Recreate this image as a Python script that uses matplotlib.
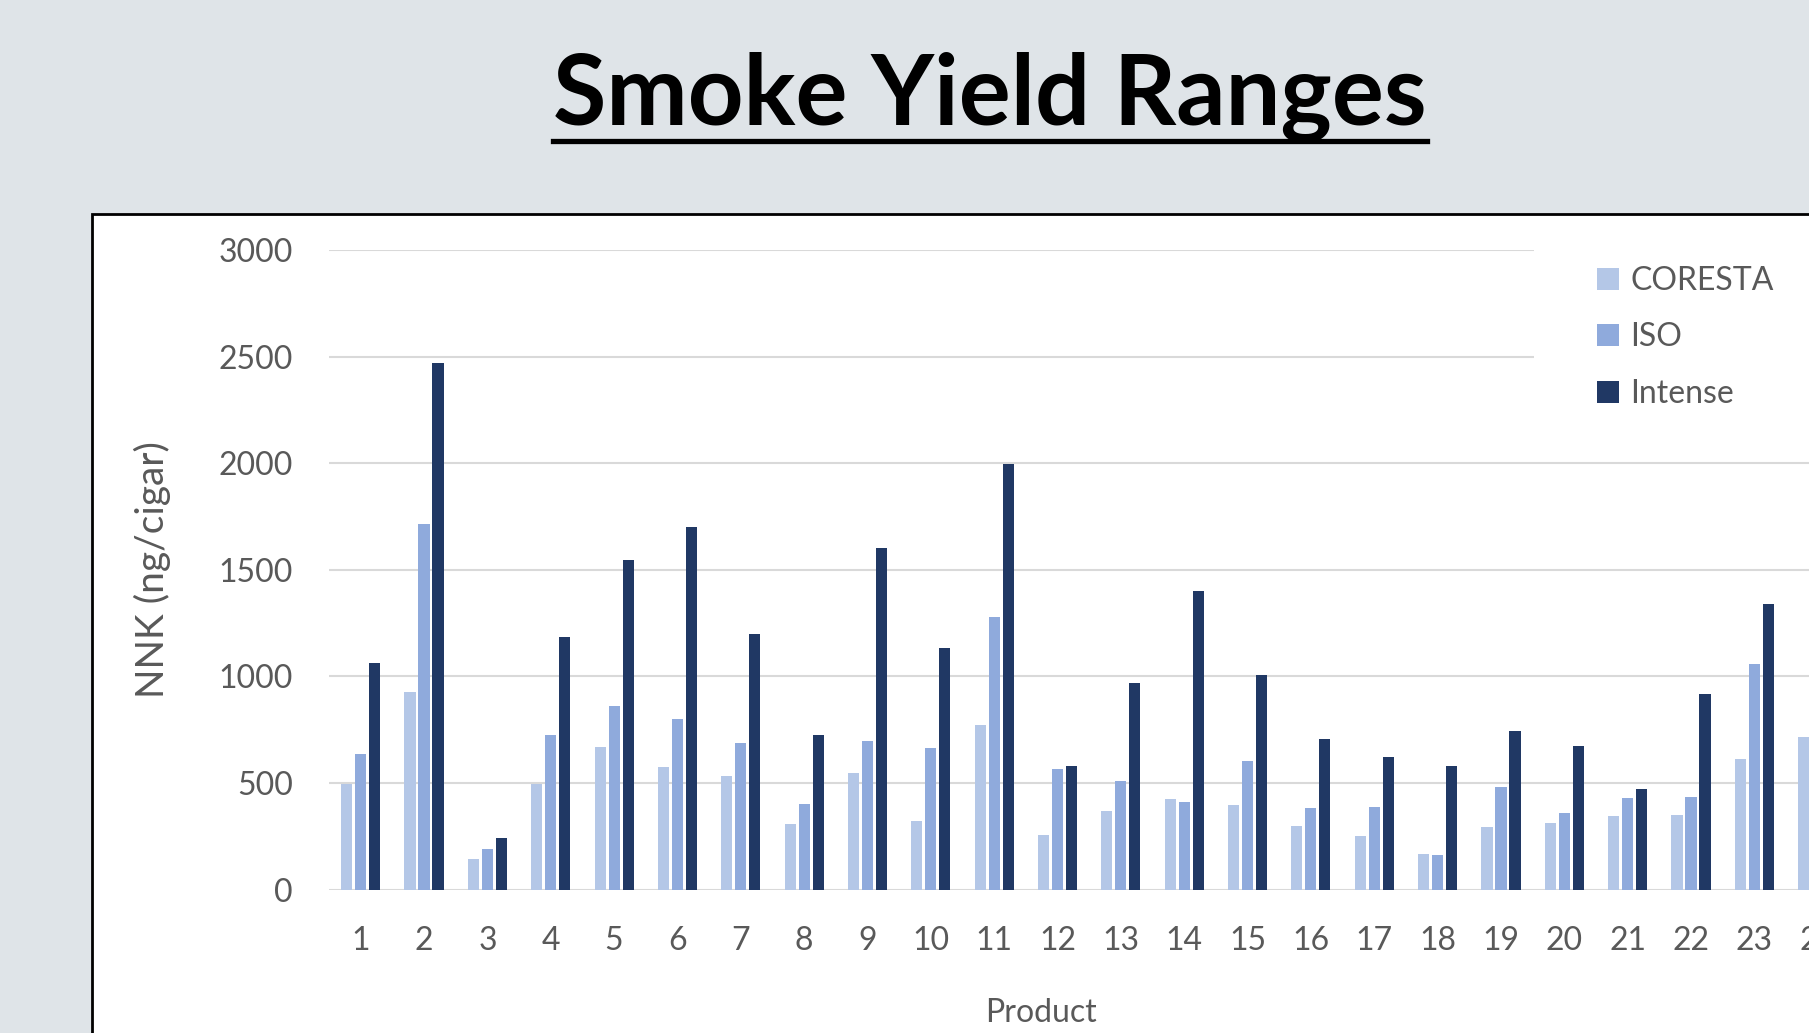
"""
Smoke Yield Ranges - NNK (ng/cigar) per product under three smoking regimes.
"""

import numpy as np
import matplotlib
matplotlib.use("Agg")
import matplotlib.pyplot as plt
from matplotlib.patches import Rectangle
from matplotlib.lines import Line2D

# ---- data ----
products = [str(i) for i in range(1, 25)]
coresta = [495, 927, 143, 495, 670, 577, 532, 308, 548, 320, 774, 257,
           367, 426, 395, 296, 253, 167, 293, 314, 346, 351, 611, 717]
iso = [634, 1716, 192, 723, 862, 799, 687, 399, 695, 664, 1278, 567,
       510, 410, 601, 383, 385, 161, 481, 357, 428, 432, 1058, np.nan]
intense = [1064, 2470, 243, 1184, 1549, 1702, 1200, 723, 1602, 1135, 1997, 581,
           970, 1402, 1007, 705, 620, 579, 744, 673, 471, 917, 1339, np.nan]
series_names = ["CORESTA", "ISO", "Intense"]
colors = ["#B4C7E7", "#8FAADC", "#203864"]

BG = "#DFE4E8"
TXT = "#595959"
FONT = ["Lato", "Open Sans", "DejaVu Sans"]

W, H = 1809, 1033
fig = plt.figure(figsize=(W / 100, H / 100), dpi=100, facecolor=BG)

# white chart box with black border (runs off the right/bottom edge)
box = Rectangle((92 / W, -0.1), 1.2, 1 - 214 / H + 0.1, transform=fig.transFigure,
                facecolor="white", edgecolor="black", linewidth=2, zorder=-5)
fig.add_artist(box)

# title, underlined
title = fig.text(0.5473, 1 - 125 / H, "Smoke Yield Ranges", ha="center", va="baseline",
                 fontsize=70, fontweight="bold", family=FONT, color="black")
fig.canvas.draw()
bb = title.get_window_extent().transformed(fig.transFigure.inverted())
fig.add_artist(Line2D([bb.x0, bb.x1], [1 - 141 / H] * 2, transform=fig.transFigure,
                      color="black", linewidth=3.8))

# axes: category spacing ~63.35 px, extends past right edge of the figure
n_show = 24
ax_left = 329 / W
ax_bottom = 1 - 889.5 / H
ax_height = (889.5 - 250.4) / H
ax_width = n_show * 63.35 / W
ax = fig.add_axes([ax_left, ax_bottom, ax_width, ax_height])
ax.set_facecolor("none")

x = np.arange(1, len(products) + 1)
bw, off = 0.175, 0.221
for k, (vals, name, col) in enumerate(zip([coresta, iso, intense], series_names, colors)):
    ax.bar(x + (k - 1) * off, vals, width=bw, color=col, label=name, zorder=3)

ax.set_xlim(0.5, n_show + 0.5)
ax.set_ylim(0, 3000)
ax.set_yticks(np.arange(0, 3001, 500))
ax.set_xticks(x)
ax.set_xticklabels(products)
ax.grid(axis="y", color="#D9D9D9", linewidth=1.5, zorder=0)
for s in ax.spines.values():
    s.set_visible(False)
ax.tick_params(axis="both", length=0, labelsize=23, labelcolor=TXT)
ax.tick_params(axis="x", pad=26)
ax.tick_params(axis="y", pad=26)
for lab in ax.get_xticklabels() + ax.get_yticklabels():
    lab.set_family(FONT)

ax.set_ylabel("NNK (ng/cigar)", fontsize=28, color=TXT, family=FONT)
ax.yaxis.set_label_coords(-0.104, 0.5)
ax.set_xlabel("Product", fontsize=23, color=TXT, family=FONT)
ax.xaxis.set_label_coords(0.468, -0.17)

# legend sits on a white patch that hides the top gridlines
fig.add_artist(Rectangle((1534 / W, 1 - 395 / H), 0.3, (395 - 232) / H,
                         transform=fig.transFigure, facecolor="white",
                         edgecolor="none", zorder=5))
leg = fig.legend(loc="upper left", bbox_to_anchor=(1581 / W, 1 - 250 / H),
                 frameon=False, fontsize=23, handlelength=0.7, handleheight=0.7,
                 handletextpad=0.35, labelspacing=0.83, borderpad=0)
leg.set_zorder(6)
for t in leg.get_texts():
    t.set_color(TXT)
    t.set_family(FONT)

fig.savefig("out.png", dpi=100, facecolor=BG)
